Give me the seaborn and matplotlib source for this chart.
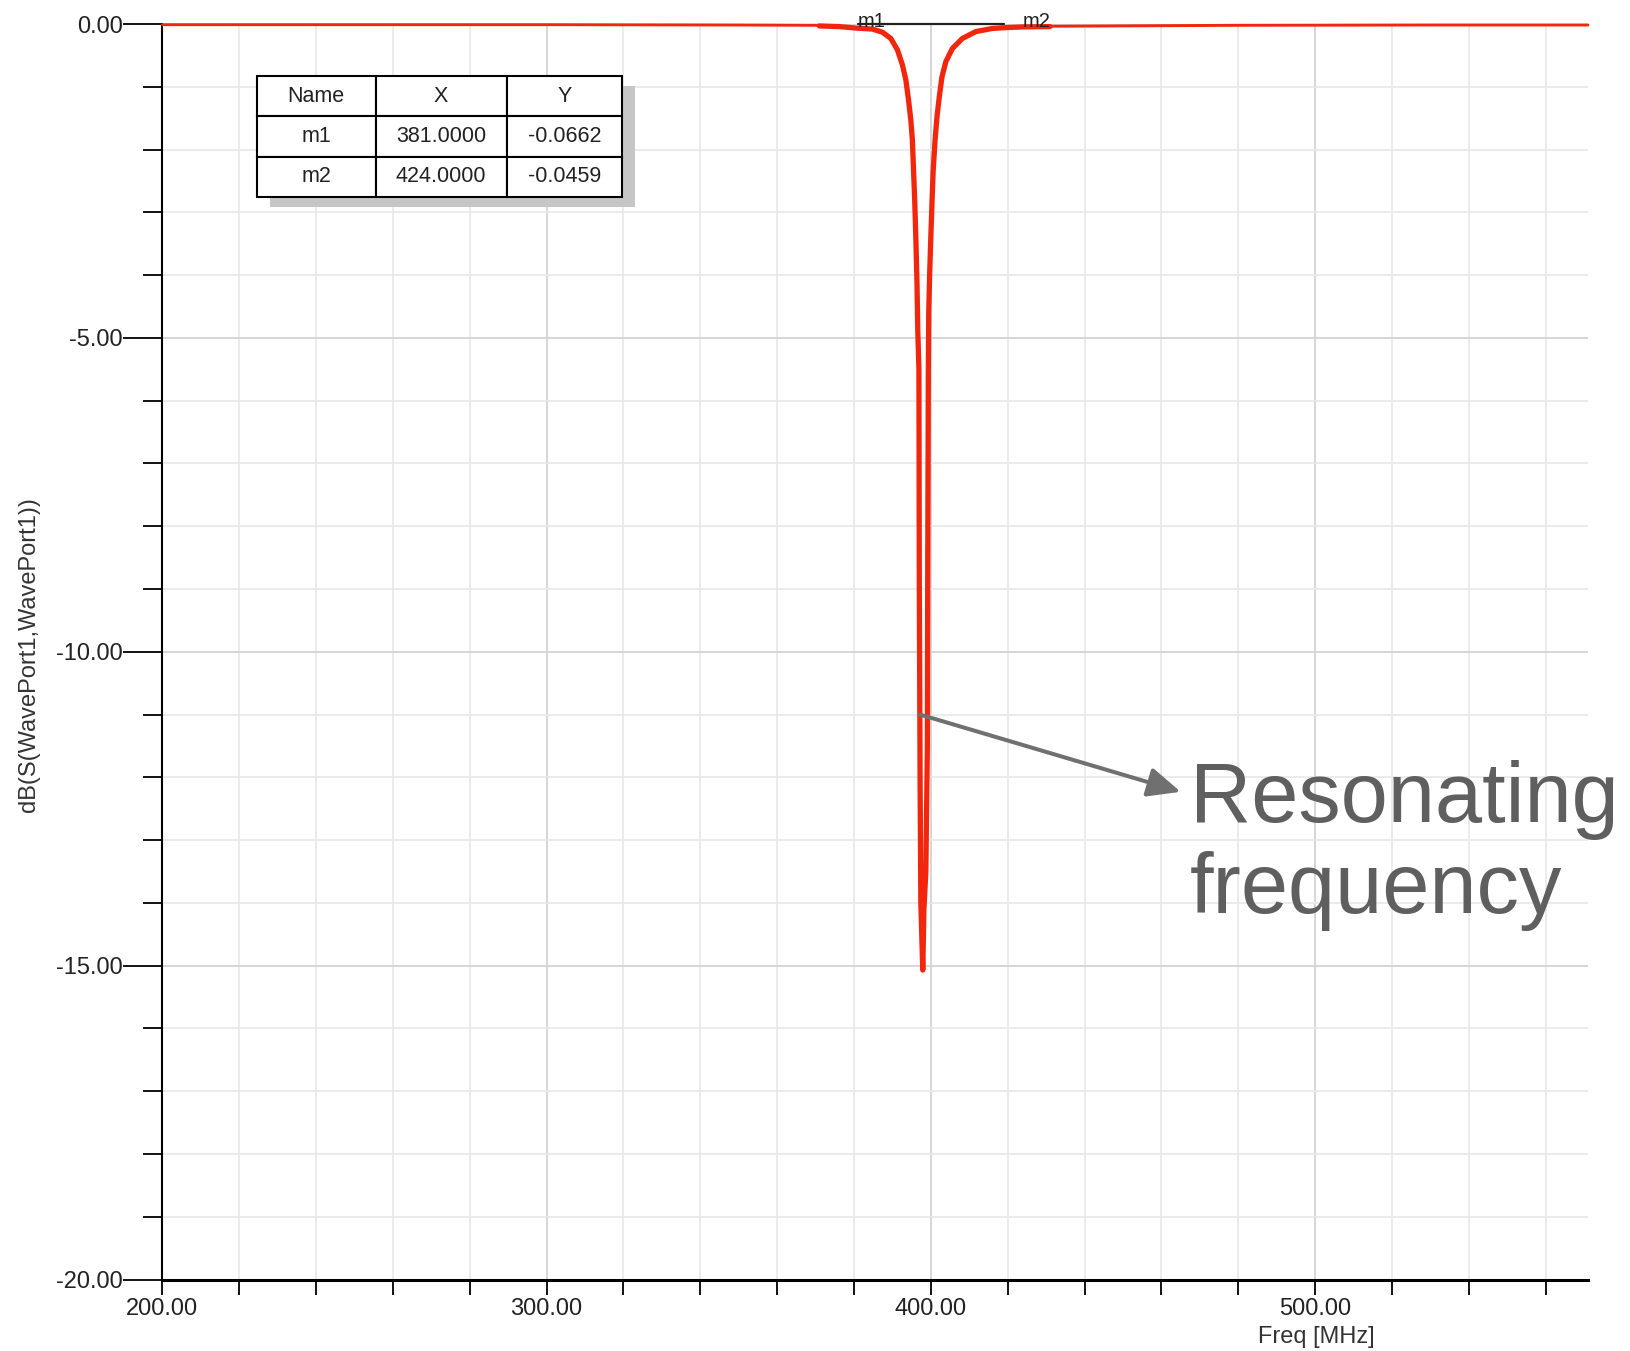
import matplotlib
matplotlib.use("Agg")
import matplotlib.pyplot as plt
from matplotlib.ticker import MultipleLocator, FormatStrFormatter
from matplotlib.patches import Rectangle
import seaborn as sns
import pandas as pd

# ---------------- data ----------------
# coarse sweep, flat parts (MHz, dB)
freq_left = [200, 250, 300, 350, 371]
s11_left = [-0.01, -0.01, -0.01, -0.015, -0.02]
freq_right = [431, 480, 530, 571]
s11_right = [-0.035, -0.02, -0.015, -0.015]

# fine sweep around the resonance (MHz, dB)
freq_fine = [371, 376, 381, 384.8, 387.4, 389.6, 391.3, 392.6, 393.5, 394.2,
             394.8, 395.2, 395.5, 395.8, 396.1, 396.4, 396.6, 396.9, 397.0,
             397.2, 397.4, 397.9, 398.2, 398.7, 399.1, 399.2, 399.35,
             399.45, 399.7, 400.0, 400.3, 400.6, 401.1, 401.6, 402.2, 402.9,
             403.9, 405.6, 408.2, 411.7, 416.0, 420.0, 424.0, 431.0]
s11_fine = [-0.03, -0.04, -0.0662, -0.08, -0.13, -0.23, -0.41, -0.65, -0.89, -1.21,
            -1.53, -1.85, -2.33, -2.80, -3.41, -4.13, -4.87, -5.5, -8.9,
            -12.0, -14.0, -15.07, -14.1, -13.5, -11.5, -8.5, -5.5,
            -4.6, -3.97, -3.39, -2.85, -2.35, -1.85, -1.48, -1.16, -0.84,
            -0.60, -0.39, -0.23, -0.12, -0.07, -0.055, -0.0459, -0.04]

# markers
marker_names = ["m1", "m2"]
marker_x = [381.0, 424.0]
marker_y = [-0.0662, -0.0459]
delta_line_x = [381.0, 419.0]

x_major = [200, 300, 400, 500]
x_labels = ["200.00", "300.00", "400.00", "500.00"]

# annotation
arrow_from = (397.2, -11.0)
arrow_to = (465.0, -12.23)

# ---------------- style ----------------
sns.set_theme(style="ticks")
plt.rcParams["font.family"] = ["Liberation Sans", "DejaVu Sans"]

RED = "#f2260c"

fig = plt.figure(figsize=(16.31, 13.51), dpi=100)
ax = fig.add_axes([0.0995, 0.0529, 0.8741, 0.9293])

df_left = pd.DataFrame({"f": freq_left, "s": s11_left})
df_right = pd.DataFrame({"f": freq_right, "s": s11_right})
df_fine = pd.DataFrame({"f": freq_fine, "s": s11_fine})

for d in (df_left, df_right):
    sns.lineplot(data=d, x="f", y="s", ax=ax, color=RED, linewidth=2.1,
                 estimator=None, sort=False, clip_on=False, zorder=3)
sns.lineplot(data=df_fine, x="f", y="s", ax=ax, color=RED, linewidth=3.8,
             estimator=None, sort=False, clip_on=False, zorder=3)

# marker delta line and labels
ax.plot(delta_line_x, [0, 0], color="#222222", lw=1.6, zorder=4, clip_on=False)
for name, mx in zip(marker_names, marker_x):
    ax.text(mx, -0.05, name, ha="left", va="baseline", fontsize=14.5,
            color="#222222", zorder=5, clip_on=False)

ax.set_xlim(200, 571)
ax.set_ylim(-20, 0)

# ticks
ax.set_xticks(x_major)
ax.set_xticklabels(x_labels)
ax.xaxis.set_minor_locator(MultipleLocator(20))
ax.yaxis.set_major_locator(MultipleLocator(5))
ax.yaxis.set_minor_locator(MultipleLocator(1))
ax.yaxis.set_major_formatter(FormatStrFormatter("%.2f"))

ax.tick_params(axis="x", which="both", direction="out", length=11, width=1.3,
               color="black", labelsize=17, pad=2, labelcolor="#222222")
ax.tick_params(axis="y", which="major", direction="out", length=28, width=1.3,
               color="black", labelsize=17, pad=0.5, labelcolor="#222222")
ax.tick_params(axis="y", which="minor", direction="out", length=14, width=1.3,
               color="black")

for side in ("top", "right"):
    ax.spines[side].set_visible(False)
ax.spines["left"].set_color("black")
ax.spines["left"].set_linewidth(1.5)
ax.spines["bottom"].set_color("black")
ax.spines["bottom"].set_linewidth(2.2)

ax.grid(which="minor", color="#e8e8e8", lw=1.2)
ax.grid(which="major", color="#d3d3d3", lw=1.3)
ax.set_axisbelow(True)
ax.set_xlabel("")
ax.set_ylabel("")

# axis titles
fig.text(29 / 1631, 1 - 655 / 1351, "dB(S(WavePort1,WavePort1))", rotation=90,
         ha="center", va="center", fontsize=17, color="#333333")
fig.text(1316 / 1631, 1 - 1337 / 1351, "Freq [MHz]", ha="center", va="center",
         fontsize=17, color="#333333")

# marker table with shadow
tx0, ty0, tw, th = 0.0664, 0.8622, 0.256, 0.0964
ax.add_patch(Rectangle((tx0 + 0.0091, ty0 - 0.008), tw, th, transform=ax.transAxes,
                       facecolor="#c6c6c6", edgecolor="none", zorder=6))
cell_text = [[n, f"{x:.4f}", f"{y:.4f}"] for n, x, y in zip(marker_names, marker_x, marker_y)]
tab = ax.table(cellText=cell_text, colLabels=["Name", "X", "Y"], cellLoc="center",
               colWidths=[0.325, 0.359, 0.316], bbox=[tx0, ty0, tw, th], zorder=7)
tab.auto_set_font_size(False)
tab.set_fontsize(15.5)
for cell in tab.get_celld().values():
    cell.set_edgecolor("black")
    cell.set_linewidth(1.5)
    cell.set_facecolor("white")
    cell.get_text().set_color("#222222")

# annotation
ax.annotate("", xy=arrow_to, xytext=arrow_from,
            arrowprops=dict(arrowstyle="-|>,head_length=1.0,head_width=0.45",
                            color="#707070", lw=2.9, mutation_scale=20,
                            shrinkA=0, shrinkB=0), zorder=8)
ax.text(467.4, -12.71, "Resonating", ha="left", va="baseline", fontsize=61,
        color="#5f5f5f", clip_on=False, zorder=8)
ax.text(467.4, -14.16, "frequency", ha="left", va="baseline", fontsize=61,
        color="#5f5f5f", clip_on=False, zorder=8)

fig.savefig("out.png", dpi=100)
